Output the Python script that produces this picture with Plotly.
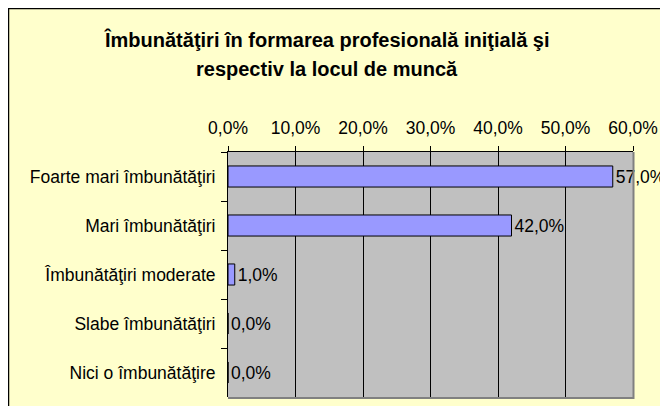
import plotly.graph_objects as go

categories = [
    "Foarte mari îmbunătăţiri",
    "Mari îmbunătăţiri",
    "Îmbunătăţiri moderate",
    "Slabe îmbunătăţiri",
    "Nici o îmbunătăţire",
]
values = [57.0, 42.0, 1.0, 0.0, 0.0]
tick_vals = [0, 10, 20, 30, 40, 50, 60]
tick_text = ["0,0%", "10,0%", "20,0%", "30,0%", "40,0%", "50,0%", "60,0%"]
title_lines = [
    "Îmbunătăţiri în formarea profesională iniţială şi",
    "respectiv la locul de muncă",
]

W, H = 668, 406
# the page adds an 8px body margin, so figure coordinates are screen - 8
L, R, T, B = 220, 625, 144, 389
FONT = "Liberation Sans, Arial, sans-serif"
FS = 17.5


def px(x):
    return (x - L) / (R - L)


def py(y):
    return (B - y) / (B - T)


labels = [f"{v:.1f}".replace(".", ",") + "%" for v in values]

fig = go.Figure(
    go.Bar(
        x=values,
        y=categories,
        orientation="h",
        marker=dict(color="#9999FF", line=dict(color="#000000", width=1)),
        text=labels,
        textposition="outside",
        textfont=dict(family=FONT, size=FS, color="#000000"),
        constraintext="none",
        cliponaxis=False,
    )
)

shapes = [
    # chart area border (left/top)
    dict(type="rect", xref="paper", yref="paper",
         x0=px(0), x1=px(700), y0=py(0), y1=py(440),
         fillcolor="#FFFFCC", line=dict(color="#000000", width=2.5), layer="below"),
    # plot area
    dict(type="rect", xref="paper", yref="paper",
         x0=0, x1=1, y0=0, y1=1,
         fillcolor="#C0C0C0", line=dict(width=0), layer="below"),
    # grey right/bottom border of plot area
    dict(type="path", xref="paper", yref="paper",
         path=f"M {px(R + 0.5)} {py(T)} L {px(R + 0.5)} {py(B + 1)} L {px(L)} {py(B + 1)}",
         line=dict(color="#808080", width=2), layer="above"),
]

annotations = [
    dict(text=title_lines[0], xref="paper", yref="paper", x=px(319), y=py(31.5),
         xanchor="center", yanchor="middle", showarrow=False,
         font=dict(family=FONT, size=20, color="#000000", weight="bold")),
    dict(text=title_lines[1], xref="paper", yref="paper", x=px(319), y=py(61.5),
         xanchor="center", yanchor="middle", showarrow=False,
         font=dict(family=FONT, size=20, color="#000000", weight="bold")),
]

fig.update_layout(
    width=W, height=H,
    margin=dict(l=L, r=W - R, t=T, b=H - B, pad=0),
    paper_bgcolor="#FFFFCC",
    plot_bgcolor="rgba(0,0,0,0)",
    showlegend=False,
    bargap=0.57,
    shapes=shapes,
    annotations=annotations,
    font=dict(family=FONT, size=FS, color="#000000"),
    xaxis=dict(
        side="top",
        range=[0, 60],
        tickvals=tick_vals,
        ticktext=tick_text,
        ticks="outside", ticklen=5, tickcolor="#000000", tickwidth=1,
        showgrid=True, gridcolor="#000000", gridwidth=1,
        showline=True, linecolor="#000000", linewidth=1,
        zeroline=False,
        ticklabelstandoff=5,
        tickfont=dict(family=FONT, size=FS, color="#000000"),
        automargin=False,
        fixedrange=True,
    ),
    yaxis=dict(
        categoryorder="array",
        categoryarray=categories,
        autorange="reversed",
        ticks="outside", ticklen=6, tickcolor="#000000", tickwidth=1,
        tickson="boundaries",
        showgrid=False,
        showline=True, linecolor="#000000", linewidth=1,
        zeroline=False,
        ticklabelstandoff=8,
        tickfont=dict(family=FONT, size=FS, color="#000000"),
        automargin=False,
        fixedrange=True,
    ),
)

fig.write_html("out.html")
